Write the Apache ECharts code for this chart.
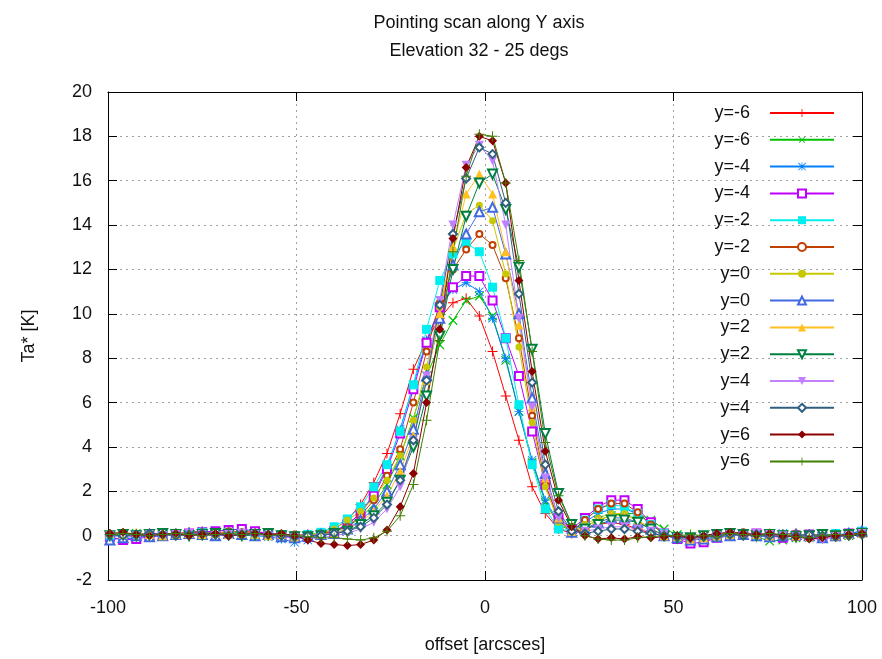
<!DOCTYPE html>
<html><head><meta charset="utf-8">
<script src="https://cdn.jsdelivr.net/npm/echarts@6/dist/echarts.min.js"></script>
<style>html,body{margin:0;padding:0;background:#fff}#c{width:882px;height:659px}</style>
</head><body><div id="c"></div>
<script>
// offset [arcsec] sample positions
const offsets = [-99.5,-96,-92.5,-89,-85.5,-82,-78.5,-75,-71.5,-68,-64.5,-61,-57.5,-54,-50.5,-47,-43.5,
  -40,-36.5,-33,-29.5,-26,-22.5,-19,-15.5,-12,-8.5,-5,-1.5,2,5.5,9,12.5,16,19.5,23,26.5,30,33.5,37,40.5,44,47.5,
  51,54.5,58,61.5,65,68.5,72,75.5,79,82.5,86,89.5,93,96.5,100];

const labels = ['y=-6','y=-6','y=-4','y=-4','y=-2','y=-2','y=0','y=0','y=2','y=2','y=4','y=4','y=6','y=6'];

const ta1 = [0.05,0.1,0.0,-0.05,0.05,0.1,0.15,0.2,0.15,0.1,0.2,0.15,0.1,0.05,0.0,0.05,0.1,
  0.3,0.7,1.4,2.4,3.7,5.5,7.5,8.8,9.8,10.5,10.7,9.9,8.3,6.3,4.3,2.2,1.0,0.3,0.1,0.3,0.5,0.6,0.5,0.3,0.1,0.0,
  -0.1,-0.15,-0.05,0.0,0.1,0.05,0.0,-0.05,0.05,0.1,0.0,-0.1,0.0,0.05,0.1];
const ta2 = [0.0,0.05,0.1,0.05,0.0,0.05,0.1,0.05,0.1,0.15,0.1,0.05,0.1,0.0,-0.05,0.0,0.1,
  0.2,0.4,0.8,1.4,2.3,3.6,5.3,7.2,8.6,9.7,10.6,10.8,9.9,7.9,5.6,3.3,1.5,0.5,0.2,0.4,0.7,0.9,1.0,1.0,0.7,0.3,
  0.05,-0.1,-0.2,-0.1,0.0,0.05,-0.05,-0.25,-0.2,-0.1,0.0,0.05,-0.05,0.0,0.1];
const ta3 = [-0.1,-0.15,-0.1,0.0,0.05,0.1,0.1,0.2,0.15,0.1,0.05,0.0,-0.05,-0.15,-0.3,-0.2,0.0,
  0.2,0.5,1.0,1.9,3.1,4.8,6.8,8.8,10.3,11.1,11.4,11.0,9.8,8.0,5.6,3.4,1.6,0.6,0.2,0.6,1.0,1.2,1.2,1.0,0.5,0.1,
  -0.1,-0.2,-0.15,0.0,0.1,0.05,-0.05,0.0,0.1,0.05,-0.1,-0.05,0.0,0.1,0.2];
const ta4 = [-0.05,-0.2,-0.15,-0.05,0.0,0.05,0.1,0.15,0.2,0.25,0.3,0.2,0.1,0.0,-0.1,-0.05,0.05,
  0.2,0.5,1.0,1.8,3.0,4.6,6.6,8.7,10.3,11.2,11.7,11.7,10.6,8.9,7.2,4.7,2.3,0.8,0.3,0.8,1.3,1.6,1.6,1.2,0.6,0.1,
  -0.15,-0.35,-0.3,-0.1,0.0,0.05,0.1,0.0,-0.1,0.0,0.05,-0.05,0.0,0.1,0.15];
const ta5 = [0.0,-0.05,0.05,0.0,0.05,0.1,0.05,0.15,0.1,0.15,0.1,0.05,0.0,0.05,0.0,0.05,0.15,
  0.4,0.75,1.3,2.2,3.2,4.7,6.8,9.3,11.5,12.7,13.2,12.8,11.2,8.9,5.9,3.2,1.2,0.3,0.2,0.7,1.2,1.4,1.3,1.0,0.5,0.1,
  -0.05,-0.2,-0.15,-0.05,0.0,0.05,0.0,-0.05,0.05,0.0,-0.05,0.0,0.1,0.05,0.2];
const ta6 = [0.05,0.0,0.05,0.1,0.05,0.0,0.1,0.15,0.1,0.2,0.15,0.1,0.05,0.0,0.05,0.0,0.1,
  0.2,0.4,0.9,1.6,2.7,3.9,6.0,8.3,10.5,12.0,12.9,13.6,13.1,11.6,8.9,5.4,2.3,0.7,0.2,0.7,1.2,1.45,1.45,1.05,0.5,0.1,
  -0.1,-0.2,-0.1,0.0,0.1,0.15,0.05,0.0,0.05,0.1,0.0,-0.05,0.05,0.0,0.1];
const ta7 = [0.1,0.05,0.0,0.05,0.1,0.05,0.0,0.05,0.1,0.15,0.05,0.1,0.05,0.0,-0.05,0.05,0.1,
  0.3,0.7,1.1,1.7,2.5,3.6,5.2,7.6,10.3,12.9,14.5,14.9,14.2,11.8,8.5,5.1,2.2,0.6,0.2,0.5,0.8,1.0,1.0,0.7,0.3,0.0,
  -0.1,-0.15,-0.05,0.05,0.1,0.05,0.0,0.05,-0.05,0.0,0.1,0.0,-0.1,0.05,0.1];
const ta8 = [-0.2,-0.1,0.0,-0.05,0.0,0.05,0.1,0.05,0.0,0.1,0.05,0.0,0.05,-0.05,-0.1,0.0,0.05,
  0.1,0.3,0.7,1.2,2.0,3.2,4.8,7.2,9.8,12.2,13.6,14.6,14.8,12.7,10.0,6.2,2.8,0.8,0.15,0.3,0.6,0.8,0.8,0.6,0.3,0.0,
  -0.1,-0.2,-0.15,-0.05,0.0,0.05,0.0,-0.05,0.0,0.05,0.0,-0.1,0.0,0.1,0.2];
const ta9 = [0.1,0.05,0.15,0.05,0.0,0.05,0.1,0.05,0.1,0.05,0.1,0.05,0.0,0.05,-0.05,0.0,0.05,
  0.1,0.3,0.6,1.1,1.8,2.9,4.5,7.0,10.0,13.0,15.4,16.3,15.4,12.8,9.5,5.8,2.6,0.8,0.2,0.4,0.7,0.9,0.9,0.7,0.3,0.0,
  -0.05,-0.15,-0.1,0.0,0.05,0.1,0.05,0.0,0.05,0.0,-0.05,0.05,0.0,0.05,0.1];
const ta10 = [0.0,0.05,0.0,0.05,0.1,0.05,0.0,0.05,0.1,0.05,0.0,0.05,0.1,0.0,-0.05,-0.05,0.0,
  0.1,0.2,0.5,0.9,1.5,2.5,4.0,6.3,9.0,12.0,14.4,15.9,16.3,14.7,12.1,8.4,4.6,1.9,0.5,0.3,0.5,0.7,0.7,0.6,0.3,0.0,
  -0.1,-0.1,0.0,0.05,0.1,0.05,0.0,0.05,0.0,-0.05,0.0,0.05,0.0,0.05,0.1];
const ta11 = [0.0,-0.05,0.0,0.05,0.0,0.05,0.1,0.05,0.0,0.05,0.1,0.05,0.0,-0.05,-0.1,-0.15,-0.1,
  0.0,0.1,0.3,0.6,1.2,2.2,4.3,7.2,10.6,14.0,16.7,17.6,16.9,14.0,9.8,5.8,2.6,0.8,0.2,0.2,0.3,0.4,0.4,0.3,0.2,0.05,
  -0.1,-0.2,-0.1,0.0,0.05,0.0,0.1,0.05,0.0,-0.05,-0.1,-0.2,-0.05,0.0,0.1];
const ta12 = [0.05,0.0,0.05,0.1,0.05,0.0,0.05,0.1,0.05,0.0,0.05,0.1,0.05,0.0,-0.05,0.0,0.0,
  0.1,0.2,0.4,0.8,1.4,2.5,4.3,7.0,10.4,13.6,16.1,17.5,17.2,15.0,10.9,6.9,3.2,1.1,0.2,0.1,0.2,0.3,0.3,0.2,0.1,0.0,
  -0.05,-0.1,-0.05,0.0,0.05,0.0,0.05,0.0,-0.05,0.0,0.05,0.0,-0.05,0.0,0.05];
const ta13 = [0.1,0.15,0.05,0.0,0.05,0.1,0.0,0.05,0.1,0.0,0.05,0.1,0.05,0.1,0.0,-0.2,-0.35,
  -0.4,-0.45,-0.4,-0.2,0.25,1.3,2.8,6.0,9.3,13.4,16.6,18.0,17.8,15.9,11.5,7.4,3.8,1.6,0.4,0.0,-0.15,-0.1,-0.15,-0.05,-0.1,-0.05,
  0.0,-0.1,0.0,0.1,0.15,0.1,0.05,0.1,0.0,-0.05,-0.15,-0.1,0.0,0.05,0.1];
const ta14 = [0.05,0.1,0.05,0.0,0.05,0.1,0.05,0.0,0.05,0.1,0.05,0.1,0.0,0.05,0.0,-0.05,-0.1,
  -0.1,-0.15,-0.2,-0.1,0.2,0.9,2.3,5.2,8.8,12.8,16.2,18.1,18.0,15.9,12.4,8.3,4.2,1.8,0.5,0.0,-0.15,-0.2,-0.2,-0.1,-0.05,0.0,
  0.0,0.05,0.0,-0.05,0.1,0.05,0.0,0.1,0.05,-0.05,-0.1,0.0,0.05,0.0,0.1];

const seriesValues = [ta1,ta2,ta3,ta4,ta5,ta6,ta7,ta8,ta9,ta10,ta11,ta12,ta13,ta14];
const xTicks = {min:-100, max:100, interval:50};
const yTicks = {min:-2, max:20, interval:2};
const xInnerTicks = [-50, 0, 50];
const yInnerTicks = [0, 2, 4, 6, 8, 10, 12, 14, 16, 18];

// styles (gnuplot default line types)
const colors = ['#ff0000','#00c000','#0080ff','#c000ff','#00eeee','#c04000','#c8c800','#4169e1','#ffc020','#008040','#c080ff','#306080','#8b0000','#408000'];
const PLUS = 'path://M4.5,0L5.5,0L5.5,4.5L10,4.5L10,5.5L5.5,5.5L5.5,10L4.5,10L4.5,5.5L0,5.5L0,4.5L4.5,4.5Z';
const STAR = 'path://M4.5,0L5.5,0L5.5,4.5L10,4.5L10,5.5L5.5,5.5L5.5,10L4.5,10L4.5,5.5L0,5.5L0,4.5L4.5,4.5Z' +
  'M0,0.7L0.7,0L10,9.3L9.3,10Z M0.7,10L0,9.3L9.3,0L10,0.7Z';
const symbols = [
  {symbol: PLUS, size: 10, rot: 0, fill: true},
  {symbol: PLUS, size: 12, rot: 45, fill: true},
  {symbol: STAR, size: 9, rot: 0, fill: true},
  {symbol: 'emptyRect', size: 8, rot: 0, fill: false},
  {symbol: 'rect', size: 9, rot: 0, fill: true},
  {symbol: 'emptyCircle', size: 6, rot: 0, fill: false},
  {symbol: 'circle', size: 7, rot: 0, fill: true},
  {symbol: 'emptyTriangle', size: 9, rot: 0, fill: false},
  {symbol: 'triangle', size: 9, rot: 0, fill: true},
  {symbol: 'emptyTriangle', size: 9, rot: 180, fill: false},
  {symbol: 'triangle', size: 9, rot: 180, fill: true},
  {symbol: 'emptyDiamond', size: 8, rot: 0, fill: false},
  {symbol: 'diamond', size: 9, rot: 0, fill: true},
  {symbol: PLUS, size: 10, rot: 0, fill: true}
];

const GRIDCOLOR = '#a0a0a0';
const font = '"Liberation Sans", Arial, sans-serif';
function axisLine() { return {show: true, onZero: false, lineStyle: {color: '#000', width: 1}}; }
function axisTick() { return {show: true, inside: true, length: 9, lineStyle: {color: '#000'}}; }
function gridLine() { return {show: true, lineStyle: {color: GRIDCOLOR, width: 1, type: [2, 4]}}; }

function makeOption(useMarkLines) {
  const series = seriesValues.map((vals, i) => ({
    name: labels[i] + '\u200b'.repeat(i),
    type: 'line',
    data: offsets.map((x, j) => [x, vals[j]]),
    symbol: symbols[i].symbol,
    symbolSize: symbols[i].size,
    symbolRotate: symbols[i].rot,
    showAllSymbol: true,
    lineStyle: {color: colors[i], width: 1},
    itemStyle: {color: colors[i], borderColor: colors[i], borderWidth: symbols[i].fill ? 0 : 1},
    emphasis: {disabled: true},
    animation: false
  }));
  if (useMarkLines) {
    series[0].markLine = {
      silent: true, symbol: 'none', label: {show: false}, animation: false,
      lineStyle: {color: GRIDCOLOR, width: 1, type: [2, 4]},
      emphasis: {disabled: true},
      data: xInnerTicks.map(v => ({xAxis: v})).concat(yInnerTicks.map(v => ({yAxis: v})))
    };
  }
  return {
    animation: false,
    backgroundColor: '#fff',
    title: {
      text: 'Pointing scan along Y axis\nElevation 32 - 25 degs',
      left: 474, top: 4, textAlign: 'center',
      textStyle: {fontFamily: font, fontSize: 18, fontWeight: 'normal', color: '#111', lineHeight: 28}
    },
    graphic: [
      {type: 'text', x: 29, y: 336, rotation: Math.PI / 2,
        style: {text: 'Ta* [K]', fill: '#111', fontFamily: font, fontSize: 18, textAlign: 'center', textVerticalAlign: 'middle'}},
      {type: 'text', x: 485, y: 645,
        style: {text: 'offset [arcsces]', fill: '#111', fontFamily: font, fontSize: 18, textAlign: 'center', textVerticalAlign: 'middle'}}
    ],
    grid: {left: 108, right: 20, top: 92, bottom: 79},
    legend: {
      show: true, orient: 'vertical', left: 685, top: 99, align: 'right',
      itemWidth: 64, itemHeight: 10, itemGap: 8.8, selectedMode: false,
      formatter: n => n.replace(/\u200b/g, ''),
      textStyle: {fontFamily: font, fontSize: 18, color: '#111', width: 60, align: 'right', lineHeight: 18, padding: [0, 15, 0, 0]},
      data: series.map(s => s.name)
    },
    xAxis: [
      {type: 'value', min: xTicks.min, max: xTicks.max, interval: xTicks.interval, position: 'bottom',
        axisLabel: {show: true, margin: 19, fontFamily: font, fontSize: 18, color: '#111'},
        axisLine: axisLine(), axisTick: axisTick(), splitLine: gridLine()},
      {type: 'value', min: xTicks.min, max: xTicks.max, interval: xTicks.interval, position: 'top',
        axisLabel: {show: false}, axisLine: axisLine(), axisTick: axisTick(), splitLine: {show: false}}
    ],
    yAxis: [
      {type: 'value', min: yTicks.min, max: yTicks.max, interval: yTicks.interval, position: 'left',
        axisLabel: {show: true, margin: 16, fontFamily: font, fontSize: 18, color: '#111'},
        axisLine: axisLine(), axisTick: axisTick(), splitLine: gridLine()},
      {type: 'value', min: yTicks.min, max: yTicks.max, interval: yTicks.interval, position: 'right',
        axisLabel: {show: false}, axisLine: axisLine(), axisTick: axisTick(), splitLine: {show: false}}
    ],
    series: series
  };
}

const chart = echarts.init(document.getElementById('c'), null, {renderer: 'canvas'});
chart.setOption(makeOption(false));

function hasGridLines() {
  try {
    const list = chart.getZr().storage.getDisplayList(true);
    return list.some(el => el.style && typeof el.style.stroke === 'string' &&
      el.style.stroke.toLowerCase() === GRIDCOLOR);
  } catch (e) { return true; }
}
if (!hasGridLines()) {
  chart.setOption(makeOption(true), true);
}
</script></body></html>
